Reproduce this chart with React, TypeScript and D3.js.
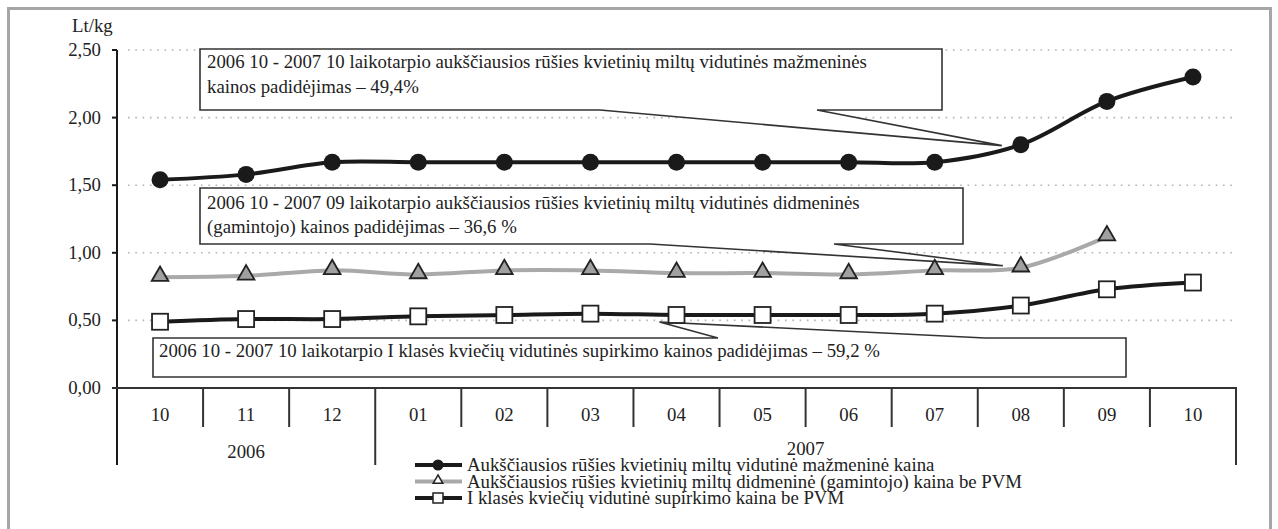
import React from 'react';
import * as d3 from 'd3';

const months = ['10', '11', '12', '01', '02', '03', '04', '05', '06', '07', '08', '09', '10'];
const years = ['2006', '2007'];
const monthsPerYear = [3, 10];
const retailPrice = [1.54, 1.58, 1.67, 1.67, 1.67, 1.67, 1.67, 1.67, 1.67, 1.67, 1.80, 2.12, 2.30];
const wholesalePrice = [0.82, 0.83, 0.87, 0.84, 0.87, 0.87, 0.85, 0.85, 0.84, 0.87, 0.89, 1.12];
const grainPrice = [0.49, 0.51, 0.51, 0.53, 0.54, 0.55, 0.54, 0.54, 0.54, 0.55, 0.61, 0.73, 0.78];
const yTicks = [0, 0.5, 1, 1.5, 2, 2.5];
const seriesNames = [
  'Aukščiausios rūšies kvietinių miltų vidutinė mažmeninė kaina',
  'Aukščiausios rūšies kvietinių miltų didmeninė (gamintojo) kaina be PVM',
  'I klasės kviečių vidutinė supirkimo kaina be PVM',
];
const notes = [
  ['2006 10 - 2007 10 laikotarpio aukščiausios rūšies kvietinių miltų vidutinės mažmeninės', 'kainos padidėjimas – 49,4%'],
  ['2006 10 - 2007 09 laikotarpio aukščiausios rūšies kvietinių miltų vidutinės didmeninės', '(gamintojo) kainos padidėjimas – 36,6 %'],
  ['2006 10 - 2007 10 laikotarpio I klasės kviečių vidutinės supirkimo kainos padidėjimas – 59,2 %'],
];

const FONT = '"Liberation Serif", "Times New Roman", "DejaVu Serif", serif';
const FS = 18.8;
const DARK = '#1a1a1a';
const GREY = '#a9a9a9';
const INK = '#222';

const keys = months.map((m, i) => `${i}-${m}`);
const x = d3.scaleBand<string>().domain(keys).range([117, 1236]);
const y = d3.scaleLinear().domain([0, 2.5]).range([388, 50]);
const cx = (i: number) => (x(keys[i]) as number) + x.bandwidth() / 2;
const fmt = (v: number) => d3.format('.2f')(v).replace('.', ',');

const line = d3.line<number>()
  .x((_, i) => cx(i))
  .y(d => y(d))
  .curve(d3.curveCatmullRom.alpha(0.5));

// callout box with a wedge pointing at a data point
function callout(box: { l: number, t: number, r: number, b: number }, base: [number, number], tip: [number, number], onTop: boolean) {
  if (onTop) {
    return `M${box.l},${box.t}H${base[0]}L${tip[0]},${tip[1]}L${base[1]},${box.t}H${box.r}V${box.b}H${box.l}Z`;
  }
  return `M${box.l},${box.t}H${box.r}V${box.b}H${base[1]}L${tip[0]},${tip[1]}L${base[0]},${box.b}H${box.l}Z`;
}

const tri = d3.symbol().type(d3.symbolTriangle).size(120)();
const triSmall = d3.symbol().type(d3.symbolTriangle).size(40)();

const App = () => {
  let acc = 0;
  const yearSpans = years.map((yr, k) => {
    const s = acc;
    acc += monthsPerYear[k];
    return { yr, x0: x(keys[s]) as number, x1: (x(keys[acc - 1]) as number) + x.bandwidth() };
  });

  const box1 = { l: 200, t: 49, r: 942, b: 110 };
  const box2 = { l: 200, t: 188, r: 963, b: 244 };
  const box3 = { l: 153, t: 338, r: 1126, b: 377 };

  return (
    <div style={{ position: 'absolute', left: 0, top: 0 }}>
      <svg width={1278} height={529} style={{ display: 'block', background: '#fff', fontFamily: FONT }}>
        <rect x={8.5} y={8.5} width={1262} height={540} fill="#fff" stroke="#a6a6a6" strokeWidth={3} />

        {/* grid */}
        {yTicks.filter(t => t > 0).map(t => (
          <line key={t} x1={128} x2={1232} y1={y(t)} y2={y(t)} stroke="#b4b4b4" strokeWidth={1.6} strokeDasharray="1.6 5.7" />
        ))}

        {/* callouts */}
        <path d={callout(box1, [600, 817], [cx(10) - 19, y(retailPrice[10]) + 1], false)} fill="#fff" stroke="#333" strokeWidth={1.6} />
        <path d={callout(box2, [650, 834], [cx(10) - 18, y(wholesalePrice[10]) - 2], false)} fill="#fff" stroke="#333" strokeWidth={1.6} />
        <path d={callout(box3, [718, 985], [cx(6) - 17, y(grainPrice[6]) + 7], true)} fill="#fff" stroke="#333" strokeWidth={1.6} />
        <g fontSize={FS} fill={INK}>
          {notes[0].map((t, i) => <text key={i} x={207} y={68 + i * 25}>{t}</text>)}
          {notes[1].map((t, i) => <text key={i} x={207} y={209 + i * 24}>{t}</text>)}
          <text x={159} y={357}>{notes[2][0]}</text>
        </g>

        {/* y axis */}
        <line x1={117} x2={117} y1={y(2.5)} y2={465} stroke={DARK} strokeWidth={2} />
        {yTicks.map(t => (
          <g key={t}>
            <line x1={112} x2={117} y1={y(t)} y2={y(t)} stroke={DARK} strokeWidth={2} />
            <text x={101} y={y(t) + 6} textAnchor="end" fontSize={FS} fill={INK}>{fmt(t)}</text>
          </g>
        ))}
        <text x={72} y={32} fontSize={FS} fill={INK}>Lt/kg</text>

        {/* x axis */}
        <line x1={112} x2={1237} y1={y(0)} y2={y(0)} stroke="#333" strokeWidth={2} />
        {keys.map((k, i) => {
          const xb = x(k) as number;
          const long = i === 0 || i === monthsPerYear[0];
          return (
            <g key={k}>
              {i > 0 && <line x1={xb} x2={xb} y1={y(0)} y2={long ? 465 : 427} stroke="#333" strokeWidth={2} />}
              <text x={cx(i)} y={421} textAnchor="middle" fontSize={FS} fill={INK}>{months[i]}</text>
            </g>
          );
        })}
        <line x1={1236} x2={1236} y1={y(0)} y2={465} stroke="#333" strokeWidth={2} />
        {yearSpans.map((s, k) => (
          <text key={s.yr} x={(s.x0 + s.x1) / 2} y={k === 0 ? 458 : 455} textAnchor="middle" fontSize={FS} fill={INK}>{s.yr}</text>
        ))}

        {/* series */}
        <path d={line(wholesalePrice) || ''} fill="none" stroke={GREY} strokeWidth={4} />
        <path d={line(grainPrice) || ''} fill="none" stroke={DARK} strokeWidth={4} />
        <path d={line(retailPrice) || ''} fill="none" stroke={DARK} strokeWidth={4} />
        {retailPrice.map((v, i) => <circle key={i} cx={cx(i)} cy={y(v)} r={8.5} fill={DARK} />)}
        {wholesalePrice.map((v, i) => (
          <path key={i} d={tri || ''} transform={`translate(${cx(i)},${y(v) - 1})`} fill="#a0a0a0" stroke={INK} strokeWidth={1.8} />
        ))}
        {grainPrice.map((v, i) => (
          <rect key={i} x={cx(i) - 8} y={y(v) - 8} width={16} height={16} fill="#fff" stroke={INK} strokeWidth={1.8} />
        ))}

        {/* legend */}
        <g fontSize={FS} fill={INK}>
          {seriesNames.map((name, i) => {
            const ly = 465 + i * 16.5;
            return (
              <g key={i}>
                <line x1={415} x2={462} y1={ly} y2={ly} stroke={i === 1 ? GREY : DARK} strokeWidth={4} />
                {i === 0 && <circle cx={438} cy={ly} r={5.5} fill={DARK} />}
                {i === 1 && <path d={triSmall || ''} transform={`translate(438,${ly - 1})`} fill="#fff" stroke={INK} strokeWidth={1.5} />}
                {i === 2 && <rect x={433} y={ly - 5} width={10} height={10} fill="#fff" stroke={INK} strokeWidth={1.5} />}
                <text x={467} y={ly + 6}>{name}</text>
              </g>
            );
          })}
        </g>
      </svg>
    </div>
  );
};

export default App;
